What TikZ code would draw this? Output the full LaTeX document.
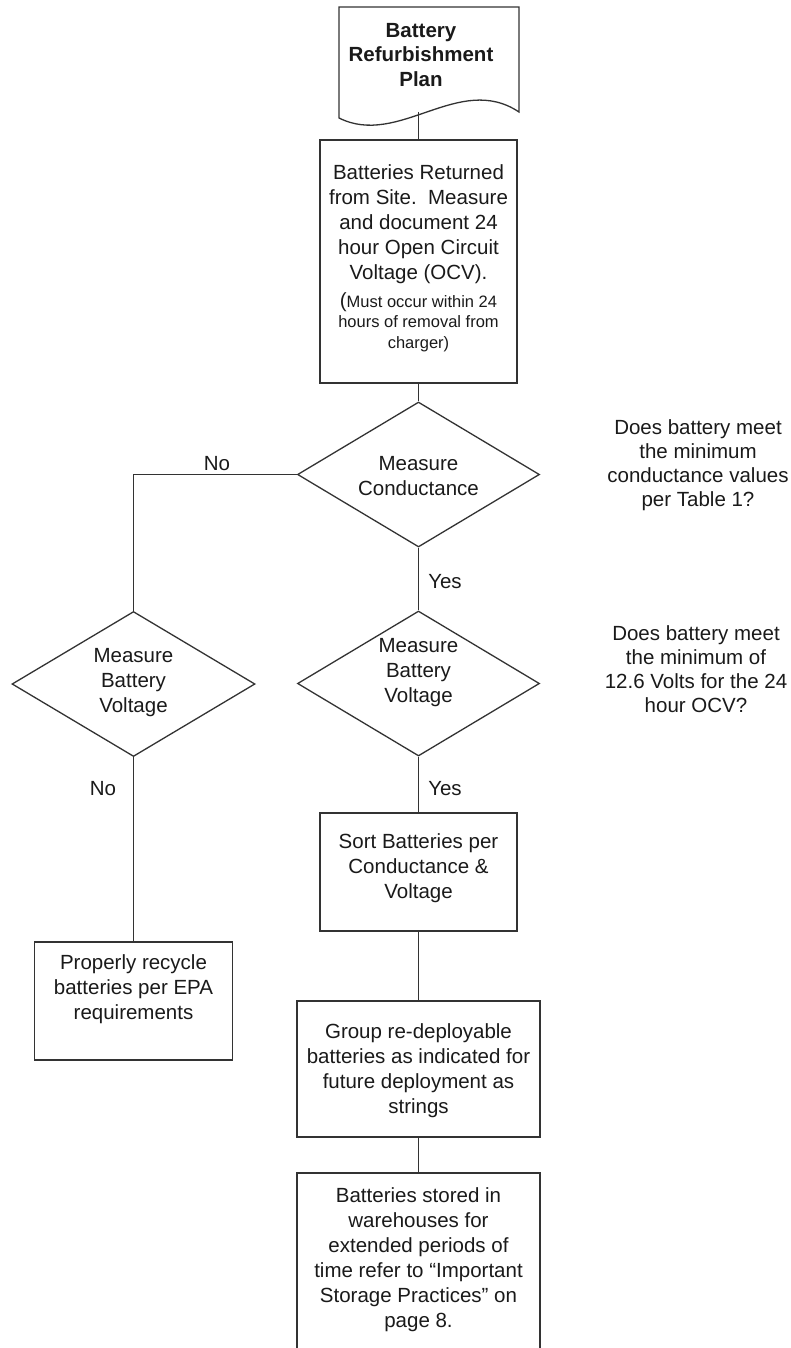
\documentclass[tikz,border=0pt]{standalone}
\usepackage{fontspec}
\setmainfont{Liberation Sans}
\usetikzlibrary{shapes.geometric}
\definecolor{ln}{HTML}{333333}
\definecolor{tx}{HTML}{1A1A1A}
\begin{document}
\begin{tikzpicture}[x=1pt,y=-1pt,
  shp/.style={draw=ln, line width=1.3pt, inner sep=0pt},
  boxn/.style={shp, rectangle, minimum width=197pt},
  dia/.style={shp, diamond, minimum width=242pt, minimum height=145pt},
  txt/.style={align=center, inner sep=0pt, text=tx, font=\fontsize{20.5}{25}\selectfont},
  small/.style={align=center, inner sep=0pt, text=tx, font=\fontsize{16.5}{20.5}\selectfont},
  conn/.style={draw=ln, line width=1.3pt}]
\useasboundingbox[fill=white] (0,0) rectangle (790,1348);

% document shape
\draw[ln, line width=1.3pt] (339,7) -- (519,7) -- (519,112) .. controls (459,72) and (399,148) .. (339,118) -- cycle;
\coordinate (docb) at (418.5,112);
\node[txt, font=\fontsize{20.5}{24.5}\selectfont\bfseries] (doct) at (421,55) {Battery\\Refurbishment\\Plan};

% shapes
\node[boxn, minimum height=243pt] (box1) at (418.5,261.5) {};
\node[dia] (d1) at (418.5,474.5) {};
\node[dia] (d2) at (418.5,683.5) {};
\node[dia, minimum width=243pt] (d3) at (133.5,684) {};
\node[boxn, minimum height=118pt] (sort) at (418.5,872) {};
\node[boxn, minimum width=198pt, minimum height=118pt] (rec) at (133.5,1001) {};
\node[boxn, minimum width=243pt, minimum height=136pt] (grp) at (418.5,1069) {};
\node[boxn, minimum width=243pt, minimum height=220pt] (last) at (418.5,1283) {};

% texts
\node[txt] (t1) at (418.5,224) {Batteries Returned\\from Site.\ \ Measure\\and document 24\\hour Open Circuit\\Voltage (OCV).};
\node[small] (t1s) at (418.5,322) {{\fontsize{20.5}{20.5}\selectfont(}Must occur within 24\\hours of removal from\\charger)};
\node[txt] (td1) at (418.5,476) {Measure\\Conductance};
\node[txt] (td2) at (418.5,673) {Measure\\Battery\\Voltage};
\node[txt] (td3) at (133.5,683) {Measure\\Battery\\Voltage};
\node[txt] (tsort) at (418.5,868) {Sort Batteries per\\Conductance \&\\Voltage};
\node[txt] (trec) at (133.5,989) {Properly recycle\\batteries per EPA\\requirements};
\node[txt] (tgrp) at (418.5,1071) {Group re-deployable\\batteries as indicated for\\future deployment as\\strings};
\node[txt] (tlast) at (418.5,1260) {Batteries stored in\\warehouses for\\extended periods of\\time refer to “Important\\Storage Practices” on\\page 8.};

% notes
\node[txt, font=\fontsize{20.5}{24.2}\selectfont] (n1) at (698,465) {Does battery meet\\the minimum\\conductance values\\per Table 1?};
\node[txt, font=\fontsize{20.5}{24.2}\selectfont] (n2) at (696,669) {Does battery meet\\the minimum of\\12.6 Volts for the 24\\hour OCV?};

% connectors
\draw[conn] (docb) -- (box1.north);
\draw[conn] (box1.south) -- (d1.north);
\draw[conn] (d1.south) -- (d2.north);
\draw[conn] (d1.west) -| (d3.north);
\draw[conn] (d2.south) -- (sort.north);
\draw[conn] (d3.south) -- (rec.north);
\draw[conn] (sort.south) -- (grp.north);
\draw[conn] (grp.south) -- (last.north);

% labels
\node[txt] (lno1) at (217,464) {No};
\node[txt] (lyes1) at (445,582) {Yes};
\node[txt] (lno2) at (103,789) {No};
\node[txt] (lyes2) at (445,789) {Yes};
\end{tikzpicture}
\end{document}
